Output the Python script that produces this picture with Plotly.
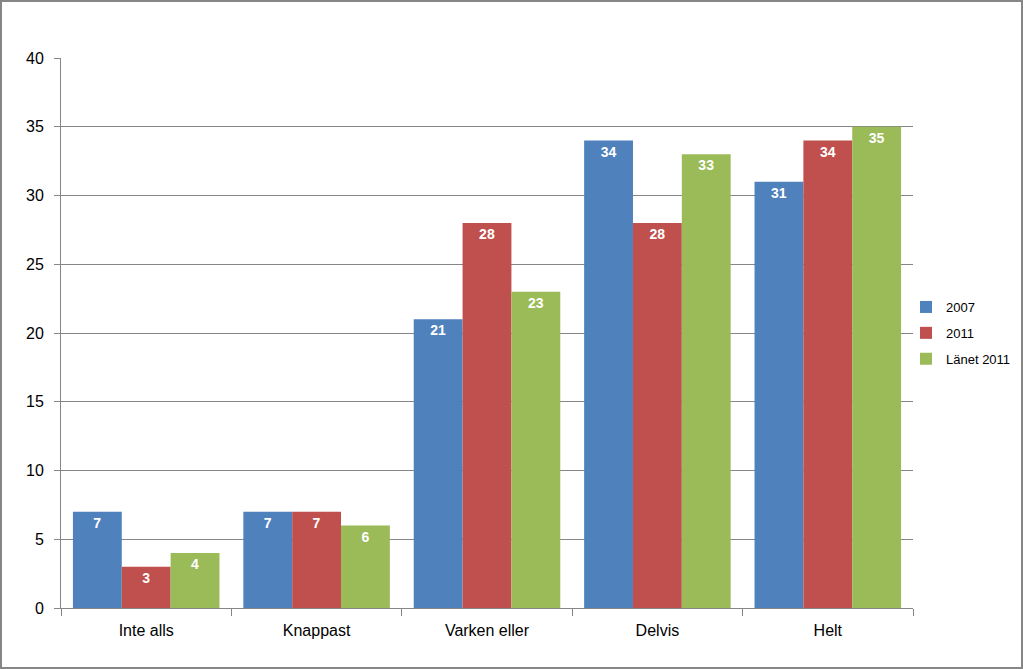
import plotly.graph_objects as go

categories = ["Inte alls", "Knappast", "Varken eller", "Delvis", "Helt"]
s2007 = [7, 7, 21, 34, 31]
s2011 = [3, 7, 28, 28, 34]
lanet2011 = [4, 6, 23, 33, 35]

series = [("2007", s2007, "#4F81BD"), ("2011", s2011, "#C0504D"), ("Länet 2011", lanet2011, "#9BBB59")]

fig = go.Figure()
for name, vals, col in series:
    fig.add_trace(go.Bar(
        x=categories, y=vals, name=name, legendgroup=name,
        marker=dict(color=col, line=dict(width=0)),
        text=[str(v) for v in vals], textposition="inside", insidetextanchor="end",
        textfont=dict(color="white", size=14, family="Liberation Sans"),
        texttemplate="<b>%{text}</b>", textangle=0,
    ))

W, H = 1023, 669
l, r, t, b = 61, 110, 58, 61
pw, ph = W - l - r, H - t - b

fig.update_layout(
    width=W, height=H, barmode="group", bargap=0.14, bargroupgap=0,
    margin=dict(l=l, r=r, t=t, b=b, autoexpand=False),
    paper_bgcolor="white", plot_bgcolor="white",
    font=dict(family="Liberation Sans", color="black"),
    legend=dict(x=(906 - l) / pw, y=0.5, xanchor="left", yanchor="middle",
                font=dict(size=13), itemwidth=30, bgcolor="rgba(0,0,0,0)",
                tracegroupgap=6),
    xaxis=dict(showline=True, linecolor="#868686", ticks="outside", tickson="boundaries",
               tickcolor="#868686", ticklen=7, tickfont=dict(size=16), showgrid=False,
               ticklabelstandoff=8),
    yaxis=dict(range=[0, 40], dtick=5, showline=True, linecolor="#868686", ticks="outside",
               tickcolor="#868686", ticklen=6, gridcolor="#868686", gridwidth=1,
               tickfont=dict(size=16), zeroline=False, ticklabelstandoff=7),
    shapes=[dict(type="rect", xref="paper", yref="paper",
                 x0=-(l - 1) / pw, x1=1 + (r - 1) / pw,
                 y0=-(b - 1) / ph, y1=1 + (t - 1) / ph,
                 line=dict(color="#868686", width=2))],
)

fig.write_html("out.html", config={"displayModeBar": False},
               post_script="document.body.style.margin='0';document.body.style.overflow='hidden';")
